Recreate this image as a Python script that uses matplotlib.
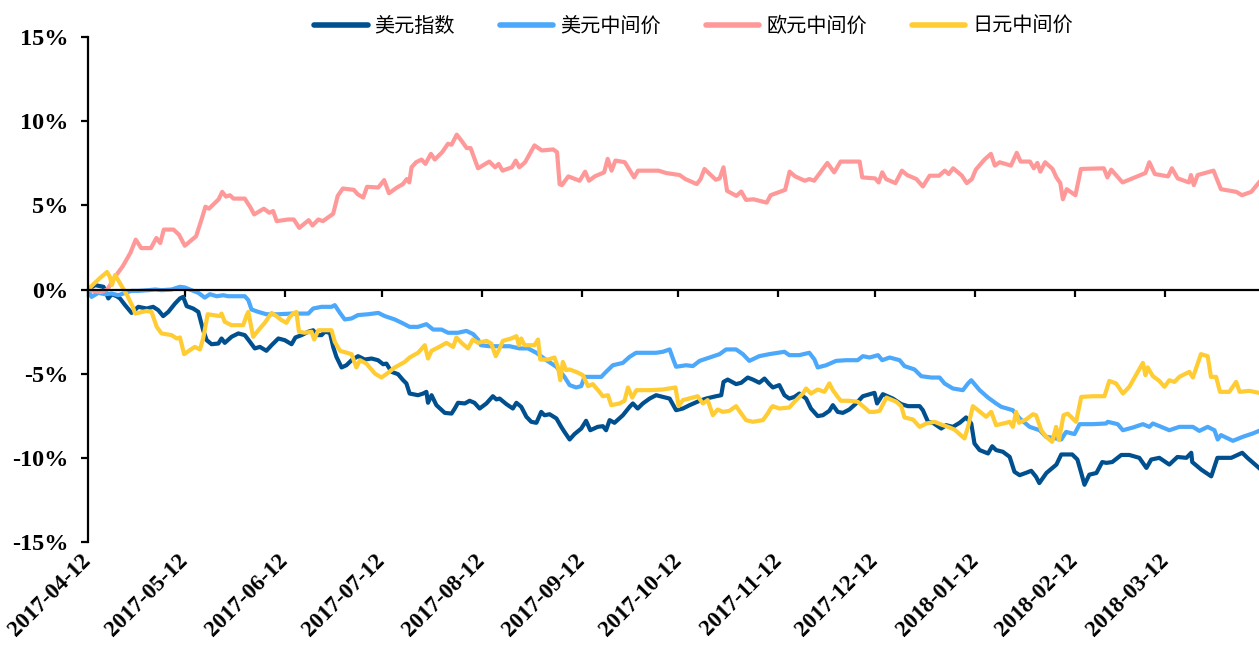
import matplotlib
matplotlib.use('Agg')
import matplotlib.pyplot as plt
import matplotlib.dates as mdates
from matplotlib.font_manager import FontProperties
import pandas as pd

start = pd.Timestamp('2017-04-12')
end_day = 363

tick_labels = ['2017-04-12', '2017-05-12', '2017-06-12', '2017-07-12', '2017-08-12',
               '2017-09-12', '2017-10-12', '2017-11-12', '2017-12-12', '2018-01-12',
               '2018-02-12', '2018-03-12']
y_ticks = [-15, -10, -5, 0, 5, 10, 15]
y_labels = ['-15%', '-10%', '-5%', '0%', '5%', '10%', '15%']
series_names = ['美元指数', '美元中间价', '欧元中间价', '日元中间价']

# days since 2017-04-12, % change
usd_idx_days = [0, 2.2, 4.8, 6.3, 7.3, 8.9, 9.9, 11.5, 13.5, 15.6,
                18.2, 20.2, 21.8, 23.3, 24.9, 27, 28.5, 29.5, 30.6, 32.6,
                34.2, 35.7, 36.8, 38.3, 40.4, 41.4, 42.4, 44.5, 46.6, 48.6,
                50.2, 51.7, 53.3, 55.3, 56.9, 59, 61, 63.1, 64.3, 66.2,
                68.3, 69.8, 70.8, 72.4, 73.4, 75, 76, 77, 78.6, 80.1,
                81.7, 83.7, 85.8, 87.9, 89.9, 91.5, 92.5, 94.1, 96.1, 97.7,
                98.7, 99.7, 102.3, 103.9, 104.9, 105.4, 106.5, 108, 110.6, 112.7,
                113.7, 114.7, 116.8, 118.3, 119.8, 121.4, 123.5, 125.5, 126.6, 127.6,
                129.7, 131.7, 132.8, 134.3, 135.9, 137.4, 139, 140.5, 141.5, 143.1,
                145.2, 146.7, 147.7, 149.3, 150.8, 152.9, 154.4, 155.7, 158, 159.6,
                160.6, 161.7, 163.2, 165.8, 167.9, 168.9, 170.4, 172, 174.1, 176.1,
                178.2, 180.3, 182.3, 184.4, 186.5, 189.6, 191.6, 194.7, 196.3, 197,
                198.3, 200.9, 202.5, 204.5, 206.1, 208.1, 209.7, 211.2, 212.3, 214.3,
                215.9, 217.4, 219, 220.5, 222.6, 224.1, 226.2, 227.8, 229.8, 230.9,
                232.4, 234, 236, 238.1, 240.2, 241.3, 243.8, 244.6, 246.4, 249.5,
                252.1, 254.2, 257.8, 258.8, 260.4, 261.9, 264.5, 266, 268.1, 270.2,
                272.2, 273.8, 274.8, 276.4, 279, 280.3, 281.5, 283.6, 285.7, 287.2,
                288.8, 290.8, 292.4, 293.9, 294.9, 297.1, 300.2, 301.7, 305.1, 306.7,
                307.9, 308.9, 310.4, 312.6, 314.4, 315.7, 317.5, 320.3, 322.8, 325.9,
                328.1, 329.6, 332.1, 335.2, 337.7, 340.5, 342, 342.3, 345.1, 348.2,
                350.1, 354.4, 357.8, 359.4, 363]
usd_idx = [0, 0.26, 0.16, -0.53, -0.28, -0.4, -0.53, -0.93, -1.39, -1.03,
           -1.13, -1.03, -1.23, -1.58, -1.33, -0.83, -0.53, -0.44, -0.99, -1.13,
           -1.33, -2.42, -3.01, -3.25, -3.21, -2.91, -3.17, -2.81, -2.61, -2.71,
           -3.11, -3.5, -3.41, -3.64, -3.31, -2.91, -3.01, -3.25, -2.85, -2.71,
           -2.51, -2.42, -2.71, -2.71, -2.51, -2.57, -3.41, -4.0, -4.63, -4.5,
           -4.2, -3.96, -4.16, -4.1, -4.2, -4.44, -4.4, -4.89, -5.03, -5.39,
           -5.58, -6.18, -6.28, -6.18, -6.08, -6.73, -6.28, -6.87, -7.33, -7.37,
           -7.07, -6.73, -6.77, -6.61, -6.73, -7.07, -6.77, -6.34, -6.53, -6.48,
           -6.81, -7.07, -6.73, -6.97, -7.56, -7.86, -7.92, -7.27, -7.47, -7.41,
           -7.66, -8.16, -8.46, -8.91, -8.59, -8.26, -7.8, -8.36, -8.16, -8.12,
           -8.36, -7.76, -7.92, -7.47, -6.97, -6.77, -7.07, -6.77, -6.48, -6.28,
           -6.38, -6.48, -7.17, -7.07, -6.87, -6.61, -6.48, -6.34, -6.28, -5.49,
           -5.35, -5.62, -5.54, -5.23, -5.35, -5.54, -5.29, -5.62, -5.82, -5.68,
           -6.28, -6.48, -6.38, -6.18, -6.48, -7.07, -7.52, -7.47, -7.21, -6.87,
           -7.27, -7.33, -7.13, -6.77, -6.34, -6.28, -6.14, -6.77, -6.22, -6.48,
           -6.81, -6.93, -6.93, -7.17, -7.86, -7.92, -8.26, -8.06, -8.16, -7.92,
           -7.6, -7.96, -9.15, -9.54, -9.74, -9.31, -9.54, -9.64, -9.94, -10.83,
           -11.03, -10.89, -10.77, -11.13, -11.5, -10.9, -10.4, -9.8, -9.8, -10.1,
           -10.9, -11.6, -11.0, -10.9, -10.25, -10.3, -10.25, -9.83, -9.83, -10.0,
           -10.6, -10.1, -10.0, -10.4, -9.95, -10.0, -9.7, -10.25, -10.7, -11.1,
           -10.0, -10.0, -9.7, -10.0, -10.6]

usd_cny_days = [0, 1.1, 3.2, 5.3, 7.3, 9.4, 11.5, 13.5, 15.6, 18.7,
                20.8, 22.8, 25.9, 28.5, 30, 32.1, 34.2, 36.2, 37.8, 39.9,
                41.9, 43.5, 45.5, 48.6, 49.7, 50.7, 52.8, 55.3, 59, 63.1,
                66.2, 68.3, 69.8, 72.4, 75.5, 76.5, 78.1, 79.6, 81.7, 83.7,
                86.8, 90, 92, 95.1, 97.7, 99.7, 102.3, 104.9, 107, 109.6,
                111.6, 114.7, 117.3, 119.4, 120.9, 121.8, 124.5, 127.6, 130.7, 133.8,
                136.4, 139, 142.1, 145.2, 147.7, 149.3, 151.3, 152.9, 153.9, 155.5,
                159.1, 160.6, 162.7, 165.8, 167.9, 169.9, 176.1, 178.2, 180.3, 181.5,
                182.3, 185.4, 187.5, 189.6, 192.7, 195.8, 197.8, 200.9, 203, 205,
                208.1, 211.2, 215.9, 217.4, 220.5, 223.6, 225.2, 226.2, 228.8, 231.9,
                235, 238.6, 240.2, 242.3, 244.9, 246.2, 248.5, 251.6, 253.1, 256.2,
                258.3, 261.4, 264, 265.5, 268.1, 271.2, 272.8, 273.8, 276.4, 279,
                281.5, 283.1, 286.7, 288.8, 291.9, 295, 297, 300.1, 301.7, 303.2,
                305.8, 307.4, 311.5, 315.6, 316.1, 319.2, 320.8, 323.9, 327, 329,
                330.1, 332.7, 335.2, 338.3, 342.5, 344.5, 347.1, 349.2, 350.2, 351.2,
                354.9, 358, 361.1, 363]
usd_cny = [0, -0.44, -0.2, -0.28, -0.24, -0.34, -0.2, -0.08, -0.08, -0.04,
           0, -0.04, 0, 0.16, 0.12, -0.04, -0.2, -0.48, -0.28, -0.4,
           -0.34, -0.4, -0.4, -0.4, -0.63, -1.19, -1.33, -1.47, -1.47, -1.43,
           -1.43, -1.43, -1.13, -1.03, -1.03, -0.93, -1.39, -1.78, -1.72, -1.52,
           -1.47, -1.39, -1.58, -1.78, -2.02, -2.22, -2.22, -2.06, -2.38, -2.38,
           -2.57, -2.57, -2.46, -2.65, -2.97, -3.31, -3.37, -3.37, -3.37, -3.5,
           -3.5, -3.76, -4.2, -4.59, -5.19, -5.68, -5.82, -5.74, -5.19, -5.19,
           -5.19, -4.89, -4.5, -4.36, -4.0, -3.76, -3.76, -3.7, -3.56, -4.2,
           -4.59, -4.5, -4.55, -4.24, -4.04, -3.84, -3.56, -3.56, -3.84, -4.24,
           -3.96, -3.84, -3.7, -3.9, -3.9, -3.76, -4.16, -4.63, -4.5, -4.24,
           -4.2, -4.2, -3.96, -4.04, -3.9, -4.2, -4.04, -4.2, -4.55, -4.75,
           -5.15, -5.23, -5.23, -5.58, -5.88, -5.98, -5.58, -5.39, -5.98, -6.42,
           -6.77, -6.97, -7.17, -7.66, -8.16, -8.36, -8.75, -8.85, -8.91, -8.46,
           -8.59, -8.0, -8.0, -7.96, -7.86, -8.0, -8.36, -8.2, -8.0, -8.16,
           -7.96, -8.16, -8.36, -8.16, -8.16, -8.4, -8.16, -8.36, -8.91, -8.65,
           -8.99, -8.75, -8.55, -8.4]

eur_cny_days = [0, 2, 4, 6, 8.4, 10.7, 13.1, 14.8, 16.5, 19.5,
                21.2, 22.4, 23.5, 26.5, 28.2, 30, 33.5, 35.2, 36.4, 37.5,
                40.5, 41.6, 42.8, 44, 45.1, 48.6, 50.4, 51.5, 54.5, 56.2,
                57.4, 58.5, 62, 63.8, 65.5, 68.4, 69.6, 71.4, 72.8, 76,
                77.4, 79, 82.4, 83.6, 85.3, 86.5, 90, 91.8, 93.3, 95.8,
                97.6, 98.8, 99.6, 100.3, 101.7, 103.4, 104.6, 106.3, 107.5, 109.8,
                111.6, 112.7, 114.3, 115.7, 117.4, 118.6, 120.9, 124.4, 126.2, 127.3,
                128.5, 131.4, 132.6, 133.7, 135.5, 138.4, 140.7, 144.2, 145.4, 146.2,
                146.9, 148.9, 152.4, 154.1, 155.3, 157.1, 160, 161.1, 162.3, 163.5,
                166.4, 169.3, 170.5, 176.9, 179.2, 183.4, 185.2, 188.7, 189.9, 191.1,
                194.6, 195.8, 197, 198.1, 201, 202.5, 204, 206.3, 210.4, 211.6,
                216.1, 217.5, 219.2, 222.2, 223.6, 225.1, 229.2, 231.3, 233.3, 239.2,
                240, 244, 245.1, 246.2, 247.4, 250.3, 252.3, 253.9, 256.8, 258.8,
                260.9, 263.8, 265.6, 266.8, 268.2, 270.9, 272.4, 274, 275.2, 277.9,
                279.9, 281.1, 282.6, 286.1, 287.9, 289.1, 292, 293.2, 294.3, 295.2,
                296.7, 299, 300.2, 301.4, 302.2, 303.4, 306.1, 307.8, 314.9, 316,
                317.2, 320.7, 327.8, 329, 330.7, 334.8, 336, 337.8, 341.3, 341.9,
                342.8, 344, 348.9, 351.2, 356, 357.7, 360.6, 363]
eur_cny = [0, -0.1, -0.15, 0.0, 0.76, 1.36, 2.16, 2.96, 2.46, 2.46,
           3.06, 2.76, 3.56, 3.56, 3.26, 2.6, 3.16, 4.16, 4.92, 4.8,
           5.36, 5.8, 5.52, 5.6, 5.4, 5.4, 4.86, 4.46, 4.8, 4.56,
           4.66, 4.06, 4.16, 4.16, 3.66, 4.12, 3.8, 4.16, 4.06, 4.5,
           5.56, 6.0, 5.92, 5.66, 5.46, 6.1, 6.06, 6.5, 5.72, 6.06,
           6.26, 6.56, 6.36, 7.26, 7.56, 7.72, 7.46, 8.06, 7.72, 8.16,
           8.66, 8.6, 9.2, 8.86, 8.4, 8.4, 7.2, 7.6, 7.26, 7.46,
           7.06, 7.26, 7.66, 7.26, 7.56, 8.56, 8.26, 8.32, 8.16, 6.26,
           6.2, 6.72, 6.46, 7.0, 6.46, 6.72, 6.96, 7.76, 7.06, 7.66,
           7.56, 6.66, 7.06, 7.06, 6.92, 6.8, 6.56, 6.26, 6.56, 7.16,
           6.52, 6.6, 7.26, 5.86, 5.56, 5.82, 5.32, 5.36, 5.16, 5.6,
           5.92, 7.0, 6.72, 6.46, 6.56, 6.46, 7.52, 6.96, 7.6, 7.6,
           6.66, 6.6, 6.36, 6.96, 6.56, 6.32, 7.06, 6.8, 6.56, 6.12,
           6.76, 6.76, 7.06, 6.86, 7.2, 6.76, 6.32, 6.56, 7.12, 7.72,
           8.06, 7.36, 7.56, 7.36, 8.12, 7.6, 7.6, 7.2, 7.52, 7.0,
           7.56, 7.16, 6.66, 6.32, 5.36, 5.96, 5.6, 7.16, 7.2, 6.66,
           7.12, 6.36, 6.92, 7.56, 6.86, 6.72, 7.2, 6.6, 6.36, 6.8,
           6.2, 6.8, 7.06, 5.96, 5.8, 5.6, 5.8, 6.36]

jpy_cny_days = [0, 3.7, 5.9, 6.8, 7.4, 8.4, 9.9, 12.1, 13.9, 14.6,
                15.6, 18.2, 19.7, 21.3, 22.8, 25.9, 27.5, 28.5, 29.8, 31.6,
                33.1, 34.7, 35.7, 37.1, 38.8, 40.9, 41.4, 42.4, 44.5, 48.1,
                49.2, 49.7, 51.2, 52.8, 54.8, 56.9, 58.4, 60, 61.5, 62.6,
                63.6, 64.6, 65.4, 67.2, 69.3, 70.1, 71.4, 75.5, 76.5, 78.1,
                81.7, 83.2, 84.3, 86.3, 88.9, 91, 93, 95.1, 98.2, 99.7,
                102.3, 104.4, 105.4, 106.5, 108.5, 111.1, 113.2, 114.2, 115.8, 117.8,
                119.3, 120.9, 123.5, 125, 126.4, 127.6, 128.6, 131.2, 132.8, 133.6,
                134.3, 135.3, 138.4, 139.5, 140.2, 142.6, 144.6, 145.7, 146.4, 147.2,
                148.2, 149.3, 151.3, 153.4, 155, 156.5, 158.1, 159.6, 161.2, 162.2,
                164.8, 166.3, 167.4, 168.7, 170, 174.1, 178.2, 182.1, 183.1, 184.4,
                187.5, 189, 190.6, 192.1, 193.7, 195.2, 196.8, 198.8, 200.9, 202.5,
                204, 206.1, 209.2, 210.7, 211.8, 212.3, 214.3, 217.4, 219, 221.6,
                222.6, 224.1, 226.2, 228.3, 229.8, 230.9, 232.4, 233.4, 236, 238.6,
                240.7, 242.2, 243.8, 245.4, 247.5, 250.6, 252.1, 253.1, 255.7, 257.8,
                259.9, 262.4, 265, 266.6, 268.6, 270.2, 271.7, 272.8, 274.3, 275.9,
                278.4, 280, 281.5, 284.6, 285.7, 286.7, 287.7, 288.6, 290.8, 292.9,
                293.9, 295.5, 297, 298.9, 300.1, 301, 302.4, 303.7, 306.3, 307.9,
                311.5, 315.1, 316.6, 318.7, 320.8, 322.8, 327, 327.8, 328.5, 330.1,
                332.1, 333.7, 335.2, 336.8, 338.3, 341.4, 342.5, 344, 345, 347.1,
                348.1, 349.7, 350.9, 353.8, 355.9, 357, 360, 363]
jpy_cny = [0, 0.68, 1.04, 0.74, 0.27, 0.86, 0.38, -0.33, -1.04, -1.43,
           -1.39, -1.27, -1.33, -2.22, -2.61, -2.71, -2.91, -2.85, -3.84, -3.6,
           -3.41, -3.56, -2.91, -1.47, -1.52, -1.58, -1.43, -1.92, -2.12, -2.12,
           -1.52, -1.33, -2.81, -2.42, -1.98, -1.39, -1.58, -1.82, -1.98, -1.62,
           -1.43, -1.33, -2.51, -2.57, -2.51, -2.97, -2.42, -2.42, -3.11, -3.64,
           -3.84, -4.63, -4.2, -4.4, -4.99, -5.23, -4.95, -4.63, -4.3, -4.04,
           -3.76, -3.31, -4.1, -3.64, -3.45, -3.17, -3.41, -2.85, -3.17, -3.5,
           -2.97, -3.17, -3.05, -3.21, -3.96, -3.5, -3.05, -2.91, -2.77, -3.31,
           -2.91, -3.31, -3.31, -2.97, -4.16, -4.16, -4.04, -4.63, -5.39, -4.3,
           -4.79, -4.75, -4.89, -5.09, -5.74, -5.62, -5.98, -6.34, -6.28, -6.87,
           -6.77, -6.61, -5.82, -6.42, -5.98, -5.98, -5.94, -5.82, -6.93, -6.57,
           -6.42, -6.34, -6.77, -6.57, -7.47, -7.13, -7.27, -7.21, -6.93, -7.37,
           -7.76, -7.86, -7.76, -7.37, -7.01, -6.93, -7.07, -7.01, -6.67, -6.18,
           -5.88, -6.18, -5.94, -6.08, -5.58, -5.98, -6.38, -6.61, -6.61, -6.67,
           -7.01, -7.27, -7.27, -7.21, -6.42, -6.67, -6.93, -7.6, -7.72, -8.16,
           -7.96, -7.86, -8.06, -8.16, -8.32, -8.59, -8.85, -8.16, -6.93, -7.17,
           -7.56, -7.27, -8.06, -7.92, -7.86, -8.16, -7.27, -7.92, -7.72, -7.41,
           -7.47, -8.36, -8.75, -9.05, -8.16, -8.95, -7.47, -7.37, -7.86, -6.38,
           -6.34, -6.34, -5.43, -5.58, -6.18, -5.78, -4.36, -5.09, -4.63, -5.15,
           -5.43, -5.78, -5.39, -5.49, -5.19, -4.89, -5.23, -4.4, -3.84, -3.96,
           -5.19, -5.19, -6.08, -6.08, -5.49, -6.08, -6.02, -6.14]

colors = ['#00508F', '#4BA8FA', '#FF9999', '#FFCC33']

serif = ['Liberation Serif', 'DejaVu Serif']

fig = plt.figure(figsize=(12.59, 6.5), dpi=100)
ax = fig.add_axes([88 / 1259, 108 / 650, 1 - 88 / 1259, 505 / 650])

series = [(usd_idx_days, usd_idx), (usd_cny_days, usd_cny),
          (eur_cny_days, eur_cny), (jpy_cny_days, jpy_cny)]
lines = []
for (d, v), c, name in zip(series, colors, series_names):
    assert len(d) == len(v), name
    x = start + pd.to_timedelta(d, unit='D')
    ln, = ax.plot(x, v, color=c, lw=3, label=name, solid_joinstyle='round')
    lines.append(ln)

ax.set_xlim(start, start + pd.Timedelta(days=end_day))
ax.set_ylim(-15, 15)
ax.set_yticks(y_ticks, labels=y_labels, fontfamily=serif, fontweight='bold', fontsize=17.5)

for s in ['top', 'right']:
    ax.spines[s].set_visible(False)
ax.spines['left'].set_linewidth(1.6)
ax.spines['bottom'].set_position(('data', 0))
ax.spines['bottom'].set_linewidth(1.6)

tick_dates = [pd.Timestamp(t) for t in tick_labels]
ax.set_xticks(tick_dates)
ax.tick_params(axis='x', direction='out', length=5, width=1.6, labelbottom=False)
ax.tick_params(axis='y', direction='out', length=5, width=1.6, pad=9)

# date labels sit below the plot, not on the zero line
sec = ax.secondary_xaxis('bottom')
sec.set_xticks(mdates.date2num(tick_dates))
sec.set_xticklabels(tick_labels, rotation=45, ha='right', va='center',
                    rotation_mode='anchor', fontfamily=serif,
                    fontweight='bold', fontsize=16.5)
sec.tick_params(length=0, pad=11)
for s in sec.spines.values():
    s.set_visible(False)

leg = fig.legend(lines, series_names, loc='center', bbox_to_anchor=(0.551, 0.959),
                 ncol=4, frameon=False,
                 prop=FontProperties(family=['Noto Sans CJK SC', 'DejaVu Sans'], size=14.5),
                 handlelength=2.64, handletextpad=0.35, columnspacing=2.24)
for h in leg.get_lines():
    h.set_linewidth(4)
    h.set_solid_capstyle('round')

fig.savefig('out.png', dpi=100)
